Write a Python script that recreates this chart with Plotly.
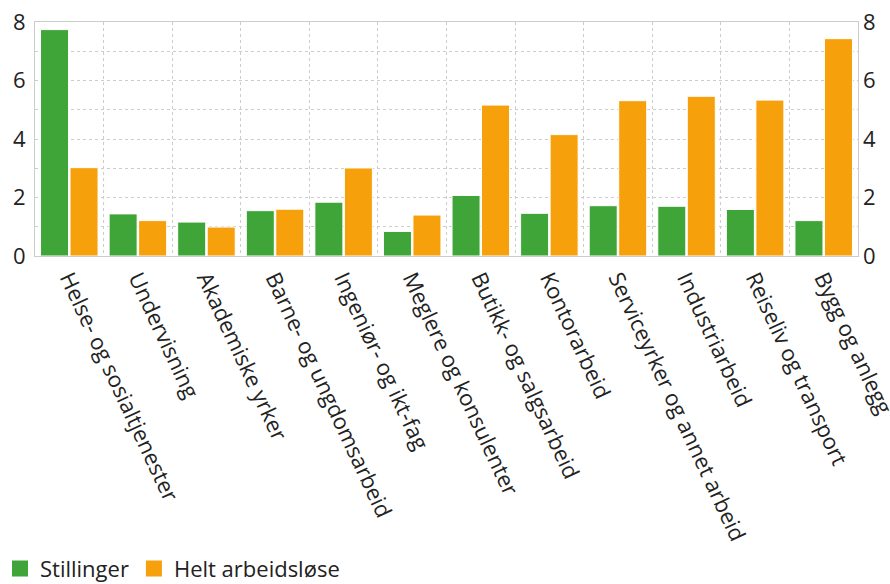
import plotly.graph_objects as go

categories = [
    "Helse- og sosialtjenester", "Undervisning", "Akademiske yrker",
    "Barne- og ungdomsarbeid", "Ingeniør- og ikt-fag", "Meglere og konsulenter",
    "Butikk- og salgsarbeid", "Kontorarbeid", "Serviceyrker og annet arbeid",
    "Industriarbeid", "Reiseliv og transport", "Bygg og anlegg",
]
stillinger = [7.74, 1.44, 1.16, 1.55, 1.84, 0.84, 2.07, 1.46, 1.72, 1.70, 1.59, 1.21]
arbeidslose = [3.02, 1.21, 0.99, 1.60, 3.01, 1.40, 5.16, 4.15, 5.31, 5.46, 5.33, 7.43]
series_names = ["Stillinger", "Helt arbeidsløse"]
series_colors = ["#40a538", "#f6a00b"]
y_ticks = [0, 2, 4, 6, 8]

FONT = "Open Sans"
fig = go.Figure()
for name, vals, col in zip(series_names, [stillinger, arbeidslose], series_colors):
    fig.add_trace(go.Bar(name=name, x=categories, y=vals, showlegend=False,
                         marker=dict(color=col, line=dict(color="white", width=1))))
# legend entries with larger square swatches
for name, col in zip(series_names, series_colors):
    fig.add_trace(go.Scatter(name=name, x=[None], y=[None], mode="markers",
                             marker=dict(symbol="square", size=16, color=col,
                                         line=dict(width=0)),
                             showlegend=True, hoverinfo="skip"))
fig.add_trace(go.Scatter(x=categories, y=stillinger, yaxis="y2", mode="lines",
                         line=dict(width=0), showlegend=False, hoverinfo="skip"))

grid = "#cccccc"
yaxis_common = dict(
    range=[0, 8], tickvals=y_ticks, ticktext=[str(v) for v in y_ticks],
    showgrid=True, gridcolor=grid, griddash="dot", gridwidth=1,
    minor=dict(dtick=1, tick0=0, showgrid=True, gridcolor=grid, griddash="dot", gridwidth=1),
    zeroline=False, tickfont=dict(size=22, color="#222"),
    fixedrange=True, automargin=False, ticks="",
)
fig.update_layout(
    width=890, height=584,
    margin=dict(l=35, r=32, t=22, b=328, autoexpand=False),
    paper_bgcolor="white", plot_bgcolor="white",
    font=dict(family=FONT, size=22, color="#222"),
    barmode="group", bargap=0.14, bargroupgap=0.05,
    xaxis=dict(type="category", tickson="boundaries", ticks="", showgrid=True,
               range=[-0.5, len(categories) - 0.5],
               gridcolor=grid, griddash="dot", tickangle=65, automargin=False,
               tickfont=dict(size=22, color="#222"),
               showline=True, linecolor="#cccccc", linewidth=1, mirror=True),
    yaxis=dict(**yaxis_common, side="left", showline=True, linecolor="#cccccc", mirror=True,
               ticklabelstandoff=4),
    yaxis2=dict(**yaxis_common, side="right", overlaying="y", showline=False,
                ticklabelstandoff=4),
    legend=dict(orientation="h", xref="container", yref="container", x=0.0, y=0.026,
                xanchor="left", yanchor="middle", font=dict(size=22, color="#222"),
                itemwidth=30, traceorder="normal"),
)
fig.write_html("out.html")
